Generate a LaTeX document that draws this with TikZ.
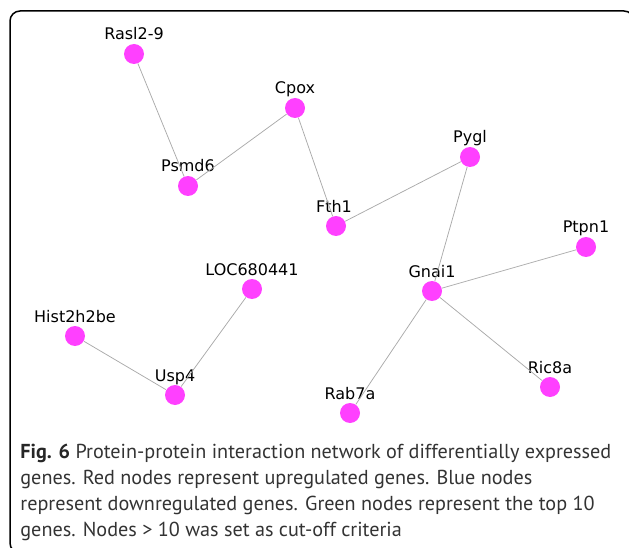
\documentclass[tikz,border=0pt]{standalone}
\usepackage{fontspec}
\setmainfont{DejaVu Sans}
\newfontfamily\capfont{PT Sans}
\usetikzlibrary{positioning}

\definecolor{genepink}{RGB}{255,64,255}
\definecolor{edgegray}{RGB}{170,170,170}

\begin{document}
\begin{tikzpicture}[x=1pt,y=-1pt,line width=0.8pt,
    gene/.style={circle,fill=genepink,minimum size=20pt,inner sep=0pt},
    glabel/.style={anchor=base,font=\fontsize{16}{19}\selectfont,inner sep=0pt},
    link/.style={draw=edgegray,line width=0.75pt}]
  \useasboundingbox (0,0) rectangle (629,548);
  \begin{scope}
    \clip (0,0) rectangle (629,548);
    \draw[line width=1.5pt,rounded corners=10pt] (10,11) rectangle (634,553);
  \end{scope}
  % genes
  \node[gene] (rasl) at (134,54) {};
  \node[gene] (cpox) at (295,108) {};
  \node[gene] (psmd) at (188,186) {};
  \node[gene] (pygl) at (470,157) {};
  \node[gene] (fth) at (336,226) {};
  \node[gene] (ptpn) at (586,247) {};
  \node[gene] (gnai) at (432,291) {};
  \node[gene] (loc) at (252,289) {};
  \node[gene] (hist) at (75,336) {};
  \node[gene] (usp) at (175,395) {};
  \node[gene] (rab) at (350,413) {};
  \node[gene] (ric) at (550,387) {};
  % names
  \node[glabel] (rasl-t) at (134,40) {Rasl2-9};
  \node[glabel] (cpox-t) at (295,94) {Cpox};
  \node[glabel] (psmd-t) at (188,172) {Psmd6};
  \node[glabel] (pygl-t) at (470,143) {Pygl};
  \node[glabel] (fth-t) at (334,212) {Fth1};
  \node[glabel] (ptpn-t) at (586,233) {Ptpn1};
  \node[glabel] (gnai-t) at (432,277) {Gnai1};
  \node[glabel] (loc-t) at (252,275) {LOC680441};
  \node[glabel] (hist-t) at (75,322) {Hist2h2be};
  \node[glabel] (usp-t) at (175,381) {Usp4};
  \node[glabel] (rab-t) at (350,399) {Rab7a};
  \node[glabel] (ric-t) at (550,373) {Ric8a};
  % interactions
  \foreach \a/\b in {rasl/psmd,psmd/cpox,cpox/fth,fth/pygl,pygl/gnai,gnai/ptpn,gnai/ric,gnai/rab,loc/usp,hist/usp}
    \draw[link] (\a) -- (\b);
  % caption
  \node[anchor=base west,align=left,inner sep=0pt,text=black!80,
        font=\capfont\fontsize{20.2}{26}\selectfont] (caption) at (20,536)
    {{\bfseries\color{black!85}Fig. 6} Protein-protein interaction network of differentially expressed\\
     genes. Red nodes represent upregulated genes. Blue nodes\\
     represent downregulated genes. Green nodes represent the top 10\\
     genes. Nodes > 10 was set as cut-off criteria};
\end{tikzpicture}
\end{document}
